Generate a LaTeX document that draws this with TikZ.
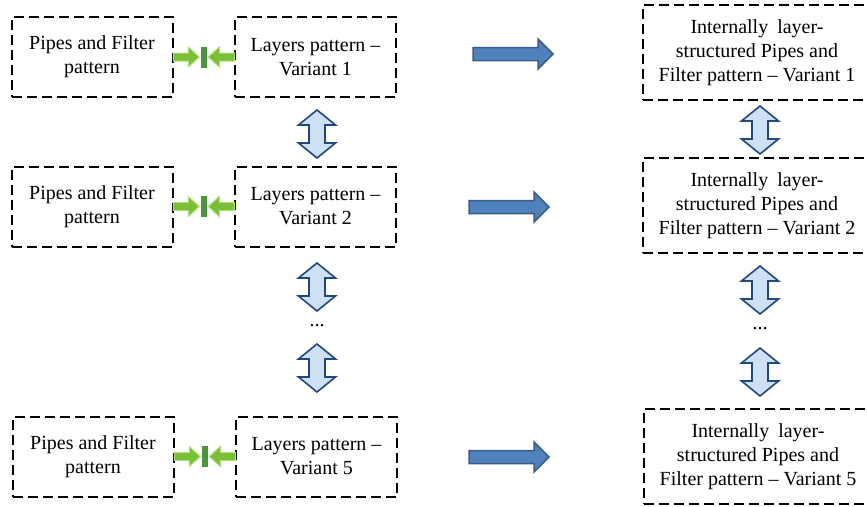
\documentclass[tikz,border=0pt]{standalone}
\usepackage{fontspec}
\setmainfont{LiberationSerif}[Extension=.ttf, UprightFont=*-Regular, BoldFont=*-Bold, ItalicFont=*-Italic, BoldItalicFont=*-BoldItalic]
\usetikzlibrary{calc}
\definecolor{gfill}{RGB}{122,192,54}
\definecolor{gline}{RGB}{176,224,120}
\definecolor{gbar}{RGB}{72,150,58}
\definecolor{bfill}{RGB}{79,129,189}
\definecolor{bline}{RGB}{56,93,138}
\definecolor{dfill}{RGB}{205,224,244}
\definecolor{dline}{RGB}{31,73,125}
\tikzset{
  patbox/.style={draw=black, line width=2pt, dash pattern=on 10pt off 5pt,
    align=center, font=\rmfamily\fontsize{20}{24}\selectfont, inner sep=0pt},
  leftbox/.style={patbox, minimum width=161pt, minimum height=80pt},
  rightbox/.style={patbox, minimum width=228pt, minimum height=95pt},
  dots/.style={font=\rmfamily\fontsize{20}{24}\selectfont, inner sep=0pt},
  greenjoin/.pic={
    \draw[fill=gfill, draw=gline, line width=1pt]
      (-30.5,-4) -- (-15.5,-4) -- (-15.5,-10) -- (-4.5,0) -- (-15.5,10) -- (-15.5,4) -- (-30.5,4) -- cycle;
    \draw[fill=gfill, draw=gline, line width=1pt]
      (30.5,-4) -- (15.5,-4) -- (15.5,-10) -- (4.5,0) -- (15.5,10) -- (15.5,4) -- (30.5,4) -- cycle;
    \fill[gbar] (-3,-10.5) rectangle (3,10.5);
  },
  bluearrow/.pic={
    \draw[fill=bfill, draw=bline, line width=1.5pt, line join=miter]
      (-40,-6.5) -- (25,-6.5) -- (25,-15) -- (40,0) -- (25,15) -- (25,6.5) -- (-40,6.5) -- cycle;
  },
  updown/.pic={
    \draw[fill=dfill, draw=dline, line width=1.6pt, line join=miter]
      (0,-24) -- (18.5,-9) -- (8,-9) -- (8,9) -- (18.5,9) -- (0,24) -- (-18.5,9)
      -- (-8,9) -- (-8,-9) -- (-18.5,-9) -- cycle;
  }
}
\begin{document}
\begin{tikzpicture}[x=1pt,y=-1pt]
\useasboundingbox (0,0) rectangle (867,506);
% left column
\node[leftbox] (A1) at (92,57) {Pipes and Filter\\pattern};
\node[leftbox] (B1) at (315.5,57) {Layers pattern –\\Variant 1};
\node[leftbox] (A2) at (92,206.5) {Pipes and Filter\\pattern};
\node[leftbox] (B2) at (315.5,206.5) {Layers pattern –\\Variant 2};
\node[leftbox] (A3) at (93,456.5) {Pipes and Filter\\pattern};
\node[leftbox] (B3) at (316.5,456.5) {Layers pattern –\\Variant 5};
% right column
\node[rightbox] (C1) at (757,52.5) {Internally\hspace{0.45em}layer-\\structured Pipes and\\Filter pattern – Variant 1};
\node[rightbox] (C2) at (757,205.5) {Internally\hspace{0.45em}layer-\\structured Pipes and\\Filter pattern – Variant 2};
\node[rightbox] (C3) at (758,456.5) {Internally\hspace{0.45em}layer-\\structured Pipes and\\Filter pattern – Variant 5};
% green joins
\pic at ($(A1.east)!0.5!(B1.west)$) {greenjoin};
\pic at ($(A2.east)!0.5!(B2.west)$) {greenjoin};
\pic at ($(A3.east)!0.5!(B3.west)$) {greenjoin};
% blue arrows
\coordinate (R1) at (513,54);
\coordinate (R2) at (509,207);
\coordinate (R3) at (509,457);
\pic at (R1) {bluearrow};
\pic at (R2) {bluearrow};
\pic at (R3) {bluearrow};
% left double arrows
\pic at (317,134) {updown};
\pic at (317,287) {updown};
\node[dots] (LD) at (317,326) {...};
\pic at (317,368) {updown};
% right double arrows
\pic at (760,130) {updown};
\pic at (760,290) {updown};
\node[dots] (RD) at (760,329) {...};
\pic at (760,372) {updown};
\end{tikzpicture}
\end{document}
